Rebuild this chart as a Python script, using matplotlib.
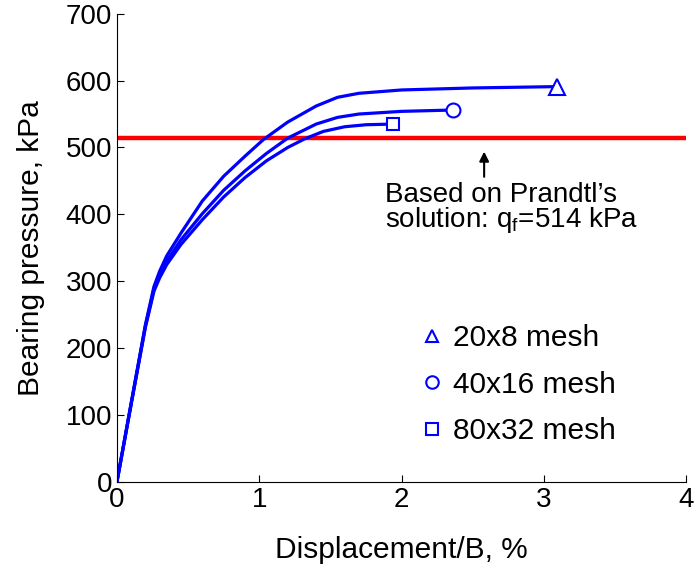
import matplotlib.pyplot as plt
from matplotlib.lines import Line2D

plt.rcParams['font.family'] = ['Liberation Sans', 'DejaVu Sans']

# displacement/B (%) and bearing pressure (kPa)
x_20x8 = [0, 0.1, 0.2, 0.26, 0.3, 0.35, 0.45, 0.6, 0.75, 0.9, 1.03, 1.2, 1.4, 1.55, 1.7, 2.0, 2.5, 3.09]
y_20x8 = [0, 118, 235, 292, 315, 338, 372, 420, 457, 487, 512, 538, 562, 575, 581, 586, 589, 591]

x_40x16 = [0, 0.1, 0.2, 0.26, 0.3, 0.35, 0.45, 0.6, 0.75, 0.9, 1.05, 1.2, 1.4, 1.55, 1.7, 2.0, 2.36]
y_40x16 = [0, 117, 233, 288, 309, 330, 362, 401, 436, 465, 491, 514, 535, 545, 550, 554, 556]

x_80x32 = [0, 0.1, 0.2, 0.26, 0.3, 0.35, 0.45, 0.6, 0.75, 0.9, 1.05, 1.2, 1.32, 1.45, 1.6, 1.75, 1.94]
y_80x32 = [0, 116, 231, 285, 305, 325, 355, 392, 426, 455, 480, 500, 513, 524, 531, 534, 535]

prandtl_qf = 514
labels = ['20x8 mesh', '40x16 mesh', '80x32 mesh']
markers = ['^', 'o', 's']

fig = plt.figure(figsize=(6.96, 5.71), dpi=100)
ax = fig.add_axes([0.168, 0.156, 0.818, 0.820])

ax.axhline(prandtl_qf, color='red', lw=3.2, zorder=1)

series = [(x_20x8, y_20x8), (x_40x16, y_40x16), (x_80x32, y_80x32)]
sizes = [12, 10, 9]
for (xs, ys), m, s in zip(series, markers, sizes):
    ax.plot(xs, ys, color='blue', lw=2.3, zorder=2, solid_joinstyle='round')
    ax.plot(xs[-1], ys[-1], marker=m, ms=s, mfc='white', mec='blue', mew=1.5, ls='none', zorder=3)

ax.annotate('', xy=(2.58, 498), xytext=(2.58, 452),
            arrowprops=dict(arrowstyle='-|>', color='black', lw=1.5, mutation_scale=14))
ax.text(1.88, 419, "Based on Prandtl\u2019s", fontsize=20, va='baseline', ha='left')
ax.text(1.88, 381, "solution: q$_\\mathregular{f}$=514 kPa", fontsize=20, va='baseline', ha='left')

handles = [Line2D([], [], marker=m, ms=9, mfc='white', mec='blue', mew=1.5, ls='none')
           for m in markers]
ax.legend(handles, labels, loc='center left', bbox_to_anchor=(0.486, 0.208), frameon=False,
          fontsize=21.5, labelspacing=0.62, handletextpad=0.3, handlelength=0.8)

ax.set_xlim(0, 4)
ax.set_ylim(0, 700)
ax.set_xticks([0, 1, 2, 3, 4])
ax.set_yticks(range(0, 701, 100))
ax.spines['top'].set_visible(False)
ax.spines['right'].set_visible(False)
ax.tick_params(direction='in', labelsize=20, length=5)
ax.set_xlabel('Displacement/B, %', fontsize=21.5, labelpad=17)
ax.set_ylabel('Bearing pressure, kPa', fontsize=21.5, labelpad=15)

fig.savefig('out.png', dpi=100)
